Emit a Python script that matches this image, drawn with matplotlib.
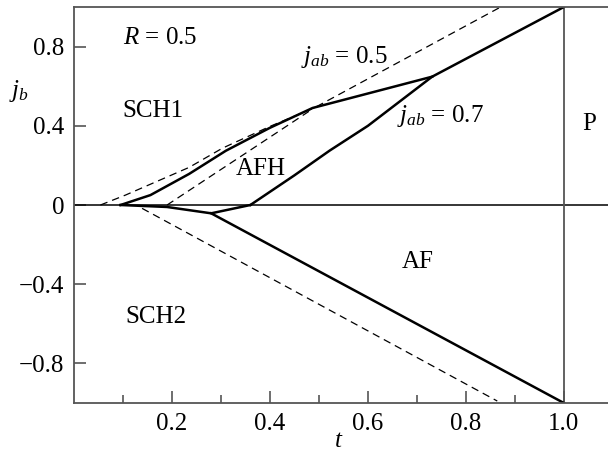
import matplotlib
import matplotlib.pyplot as plt

matplotlib.use('Agg')

plt.rcParams['font.family'] = ['Liberation Serif', 'DejaVu Serif']
plt.rcParams['mathtext.fontset'] = 'custom'
plt.rcParams['mathtext.rm'] = 'Liberation Serif'
plt.rcParams['mathtext.it'] = 'Liberation Serif:italic'

# phase boundaries (solid)
sch1_t = [0.095, 0.156, 0.235, 0.31, 0.40, 0.487, 0.731]
sch1_j = [0.0, 0.05, 0.157, 0.274, 0.39, 0.49, 0.648]

j07_t = [0.36, 0.45, 0.522, 0.60, 0.731, 1.0]
j07_j = [0.0, 0.15, 0.275, 0.40, 0.648, 1.0]

low_t = [0.095, 0.19, 0.28, 0.36]
low_j = [0.0, -0.01, -0.042, 0.0]

af_t = [0.28, 1.0]
af_j = [-0.042, -1.0]

# jab = 0.5 boundaries (dashed)
dA_t = [0.054, 0.105, 0.17, 0.235, 0.303, 0.40, 0.49, 0.871]
dA_j = [0.0, 0.05, 0.12, 0.19, 0.287, 0.397, 0.49, 1.0]

dB_t = [0.19, 0.296, 0.358, 0.49]
dB_j = [0.0, 0.173, 0.274, 0.49]

dC_t = [0.139, 0.864]
dC_j = [-0.017, -0.99]

fig = plt.figure(figsize=(6.08, 4.54), dpi=100)
ax = fig.add_axes([0.1217, 0.1123, 0.8783, 0.8723])

spc = '#555555'
for s in ['left', 'bottom', 'top']:
    ax.spines[s].set_color(spc)
    ax.spines[s].set_linewidth(1.3)
ax.spines['right'].set_visible(False)

ax.axhline(0, color='black', lw=1.1)
ax.plot([1.0, 1.0], [-1.0, 1.0], color=spc, lw=1.3)

for tt, jj in [(sch1_t, sch1_j), (j07_t, j07_j), (low_t, low_j), (af_t, af_j)]:
    ax.plot(tt, jj, color='black', lw=1.8, solid_joinstyle='miter')
for tt, jj in [(dA_t, dA_j), (dB_t, dB_j), (dC_t, dC_j)]:
    ax.plot(tt, jj, color='black', lw=0.9, dashes=(6, 4))

ax.set_xlim(0, 1.09)
ax.set_ylim(-1, 1)
ax.set_xticks([0.2, 0.4, 0.6, 0.8, 1.0])
ax.set_xticks([0.1, 0.3, 0.5, 0.7, 0.9], minor=True)
ax.set_yticks([-0.8, -0.4, 0, 0.4, 0.8])
ax.set_xticklabels(['0.2', '0.4', '0.6', '0.8', '1.0'])
ax.set_yticklabels(['\u22120.8', '\u22120.4', '0', '0.4', '0.8'])
ax.tick_params(which='both', direction='in', color=spc, width=1.2,
               labelsize=18, top=False, right=False)
ax.tick_params(which='major', length=8.5, pad=7)
ax.tick_params(which='minor', length=6)

fs = 18
ax.text(0.10, 0.845, r'$R$ = 0.5', fontsize=fs, va='center')
ax.text(0.098, 0.476, 'SCH1', fontsize=fs, va='center')
ax.text(0.464, 0.745, r'$j_{ab}$ = 0.5', fontsize=fs, va='center')
ax.text(0.659, 0.45, r'$j_{ab}$ = 0.7', fontsize=fs, va='center')
ax.text(0.33, 0.183, 'AFH', fontsize=fs, va='center')
ax.text(1.038, 0.41, 'P', fontsize=fs, va='center')
ax.text(0.669, -0.29, 'AF', fontsize=fs, va='center')
ax.text(0.105, -0.568, 'SCH2', fontsize=fs, va='center')

ax.text(-0.112, 0.577, r'$j_b$', fontsize=fs, ha='center', va='center', clip_on=False)
ax.text(0.54, -1.19, r'$t$', fontsize=fs, ha='center', va='center', clip_on=False)

fig.savefig('out.png', dpi=100)
